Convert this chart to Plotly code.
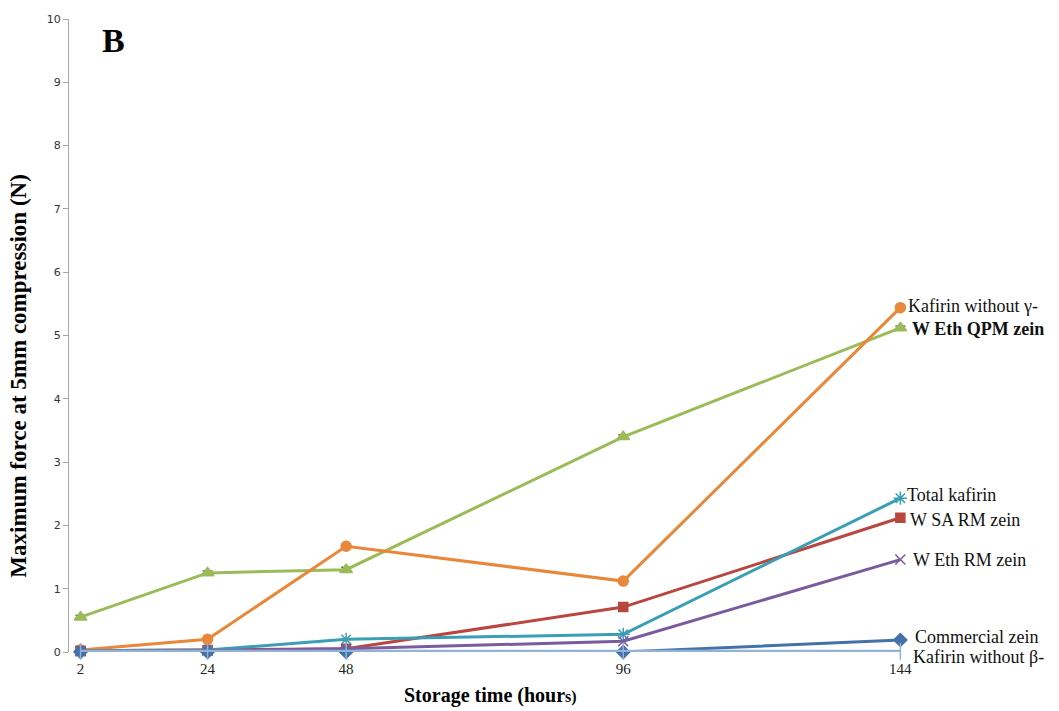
import plotly.graph_objects as go

# Storage time (hours) and maximum force (N) for each protein film
hours = [2, 24, 48, 96, 144]

commercial_zein = [0.00, 0.00, 0.00, 0.00, 0.19]
w_sa_rm_zein = [0.02, 0.03, 0.05, 0.71, 2.12]
w_eth_qpm_zein = [0.55, 1.25, 1.30, 3.40, 5.12]
w_eth_rm_zein = [0.01, 0.02, 0.05, 0.17, 1.46]
total_kafirin = [0.02, 0.03, 0.20, 0.28, 2.43]
kafirin_no_gamma = [0.03, 0.20, 1.67, 1.12, 5.44]
kafirin_no_beta = [0.01, 0.01, 0.01, 0.01, 0.01]
qpm_err = [0.03, 0.03, 0.04, 0.03, 0.03]

series = [
    ("W Eth QPM zein", w_eth_qpm_zein, "#9BBB59", "triangle-up", 11, True),
    ("Kafirin without γ-", kafirin_no_gamma, "#E8883A", "circle", 10, False),
    ("W SA RM zein", w_sa_rm_zein, "#B9473F", "square", 9, False),
    ("Total kafirin", total_kafirin, "#3A9EB5", "asterisk-open", 11, False),
    ("W Eth RM zein", w_eth_rm_zein, "#7A5C9E", "x-thin-open", 10, False),
    ("Commercial zein", commercial_zein, "#4472A8", "diamond", 10, False),
    ("Kafirin without β-", kafirin_no_beta, "#93B2D8", "line-ns-open", 12, False),
]

SERIF = "Liberation Serif, Times New Roman, serif"

fig = go.Figure()
for name, vals, color, symbol, size, err in series:
    fig.add_trace(go.Scatter(
        x=hours, y=vals, name=name, mode="lines+markers",
        line=dict(color=color, width=3),
        marker=dict(symbol=symbol, size=size, color=color,
                    line=dict(color=color, width=1.5)),
        error_y=dict(type="data", array=qpm_err, color="#222222",
                     thickness=1, width=5) if err else None,
        cliponaxis=False,
    ))

# Series names written next to the last point of each line
label_font = dict(family=SERIF, size=18, color="#111111")
end_labels = [
    # text, y position, horizontal offset (px), vertical offset (px), bold
    ("Kafirin without γ-", 5.44, 6, 2, False),
    ("W Eth QPM zein", 5.12, 10, -1, True),
    ("Total kafirin", 2.43, 5, 3, False),
    ("W SA RM zein", 2.12, 8, -2, False),
    ("W Eth RM zein", 1.46, 11, 0, False),
    ("Commercial zein", 0.19, 13, 3, False),
    ("Kafirin without β-", 0.0, 11, -5, False),
]
for text, yv, dx, dy, bold in end_labels:
    fig.add_annotation(
        x=144, y=yv, xref="x", yref="y", xshift=dx, yshift=dy,
        text=f"<b>{text}</b>" if bold else text,
        showarrow=False, xanchor="left", yanchor="middle", font=label_font,
    )

# Panel letter
fig.add_annotation(
    x=0.036, y=0.998, xref="paper", yref="paper", text="<b>B</b>", showarrow=False,
    xanchor="left", yanchor="top",
    font=dict(family=SERIF, size=34, color="#000000"),
)

# Axis titles
fig.add_annotation(
    x=0.4864, y=-0.069, xref="paper", yref="paper",
    text="<b>Storage time (hour<span style='font-size:16px'>s)</span></b>",
    showarrow=False, xanchor="center", yanchor="middle",
    font=dict(family=SERIF, size=20, color="#000000"),
)
fig.add_annotation(
    x=-0.0578, y=0.4365, xref="paper", yref="paper",
    text="<b>Maximum force at 5mm compression (N)</b>", textangle=-90,
    showarrow=False, xanchor="center", yanchor="middle",
    font=dict(family=SERIF, size=23, color="#000000"),
)

fig.update_layout(
    width=1059, height=711,
    margin=dict(l=69, r=124, t=19, b=59),
    paper_bgcolor="white", plot_bgcolor="white",
    showlegend=False,
    xaxis=dict(
        range=[0, 150], tickmode="array", tickvals=hours, ticktext=[str(h) for h in hours],
        showgrid=False, zeroline=False, showline=False, ticks="",
        ticklabelstandoff=6, automargin=False,
        tickfont=dict(family=SERIF, size=15, color="#222222"),
    ),
    yaxis=dict(
        range=[0, 10], dtick=1, showgrid=False, zeroline=False,
        showline=True, linecolor="#A6A6A6", linewidth=1,
        ticks="outside", ticklen=5, tickcolor="#A6A6A6", automargin=False,
        tickfont=dict(family="DejaVu Sans, sans-serif", size=11, color="#333333"),
    ),
)

fig.write_html("out.html")
